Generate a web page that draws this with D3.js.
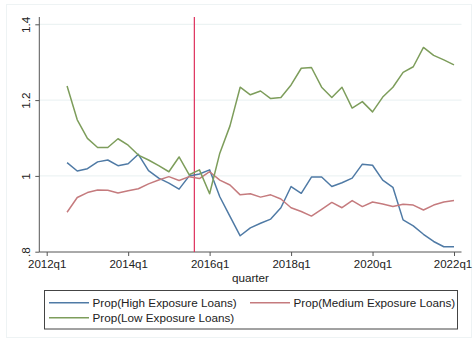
<!DOCTYPE html>
<html>
<head>
<meta charset="utf-8">
<script src="https://cdn.jsdelivr.net/npm/d3@7"></script>
<style>
  html, body { margin: 0; padding: 0; background: #fff; }
  svg { display: block; font-family: "Liberation Sans", Arial, sans-serif; }
</style>
</head>
<body>
<svg id="chart" width="473" height="342"></svg>
<script>
// Quarterly series, 2012q3 .. 2022q1 (quarter index 0 = 2012q1)
const firstQuarter = 2;
const highExposure = [1.035, 1.013, 1.019, 1.037, 1.042, 1.027, 1.032, 1.057, 1.014, 0.994,
  0.981, 0.965, 1.000, 1.005, 1.016, 0.945, 0.893, 0.842, 0.863, 0.875,
  0.886, 0.916, 0.972, 0.954, 0.997, 0.997, 0.972, 0.982, 0.994, 1.031,
  1.028, 0.989, 0.970, 0.884, 0.868, 0.846, 0.827, 0.813, 0.813];
const mediumExposure = [0.904, 0.943, 0.956, 0.963, 0.962, 0.955, 0.961, 0.966, 0.979, 0.989,
  0.998, 0.988, 0.998, 0.993, 1.011, 0.989, 0.976, 0.950, 0.953, 0.944,
  0.950, 0.939, 0.916, 0.906, 0.894, 0.912, 0.930, 0.916, 0.935, 0.919,
  0.931, 0.926, 0.919, 0.925, 0.923, 0.910, 0.923, 0.931, 0.935];
const lowExposure = [1.237, 1.148, 1.099, 1.075, 1.075, 1.098, 1.081, 1.055, 1.042, 1.027,
  1.011, 1.050, 1.003, 1.016, 0.953, 1.060, 1.132, 1.234, 1.214, 1.224,
  1.204, 1.207, 1.240, 1.284, 1.286, 1.234, 1.207, 1.234, 1.179, 1.196,
  1.169, 1.208, 1.234, 1.273, 1.288, 1.339, 1.318, 1.306, 1.293];

const xTickQuarters = [0, 8, 16, 24, 32, 40];
const xTickLabels = ["2012q1", "2014q1", "2016q1", "2018q1", "2020q1", "2022q1"];
const yTicks = [0.8, 1, 1.2, 1.4];
const yTickLabels = [".8", "1", "1.2", "1.4"];
const eventQuarter = 14.5;   // between 2015q3 and 2015q4
const seriesNames = ["Prop(High Exposure Loans)", "Prop(Medium Exposure Loans)", "Prop(Low Exposure Loans)"];
const seriesColors = ["#4f7aa5", "#c57b7e", "#7d9d5b"];

const svg = d3.select("#chart");
const font = "Liberation Sans, Arial, sans-serif";

// outer graph frame
svg.append("rect").attr("x", 6.5).attr("y", 4.5).attr("width", 465).attr("height", 333)
  .attr("fill", "#fff").attr("stroke", "#eef3f4").attr("stroke-width", 1);

const x = d3.scaleLinear().domain([0, 40]).range([46.7, 454]);
const y = d3.scaleLinear().domain([0.8, 1.4]).range([251.7, 24.3]);
const plotLeft = 39.3, plotRight = 461.5, plotTop = 17, plotBottom = 252;

// gridlines
svg.append("g").selectAll("line").data(yTicks.filter(v => v > 0.8)).join("line")
  .attr("x1", plotLeft).attr("x2", plotRight)
  .attr("y1", d => y(d)).attr("y2", d => y(d))
  .attr("stroke", "#e8f0f1").attr("stroke-width", 1);

// y axis
const yAxis = d3.axisLeft(y).tickValues(yTicks).tickSize(4)
  .tickFormat((d, i) => yTickLabels[i]);
const gy = svg.append("g").attr("transform", `translate(${plotLeft},0)`).call(yAxis);
gy.select(".domain").attr("d", `M0,${plotTop}V${plotBottom}`).attr("stroke", "#555");
gy.selectAll(".tick line").attr("stroke", "#555");
gy.selectAll(".tick text")
  .attr("x", null).attr("dy", null)
  .attr("transform", "translate(-13.5,0) rotate(-90)")
  .attr("text-anchor", "middle").attr("dominant-baseline", "central")
  .attr("font-family", font).attr("font-size", 11.7).attr("fill", "#222");

// x axis
const xAxis = d3.axisBottom(x).tickValues(xTickQuarters).tickSize(4)
  .tickFormat((d, i) => xTickLabels[i]);
const gx = svg.append("g").attr("transform", `translate(0,${plotBottom})`).call(xAxis);
gx.select(".domain").attr("d", `M${plotLeft},0H${plotRight}`).attr("stroke", "#555");
gx.selectAll(".tick line").attr("stroke", "#555");
gx.selectAll(".tick text").attr("y", 12).attr("dy", "0.32em")
  .attr("font-family", font).attr("font-size", 11.5).attr("fill", "#222");
// keep the last year label inside the frame
gx.selectAll(".tick text").filter((d, i) => i === xTickQuarters.length - 1)
  .attr("dx", -1.5);

svg.append("text").attr("x", 250.5).attr("y", 277.5)
  .attr("text-anchor", "middle").attr("dominant-baseline", "central")
  .attr("font-family", font).attr("font-size", 11.7).attr("fill", "#222")
  .text("quarter");

// vertical event line
svg.append("line")
  .attr("x1", x(eventQuarter)).attr("x2", x(eventQuarter))
  .attr("y1", plotTop).attr("y2", plotBottom)
  .attr("stroke", "#de2f5c").attr("stroke-width", 1.2);

// series
const series = [highExposure, mediumExposure, lowExposure];
const line = d3.line().x((d, i) => x(firstQuarter + i)).y(d => y(d));
svg.append("g").selectAll("path").data(series).join("path")
  .attr("d", d => line(d))
  .attr("fill", "none")
  .attr("stroke", (d, i) => seriesColors[i])
  .attr("stroke-width", 1.5)
  .attr("stroke-linejoin", "round");

// legend
const lg = svg.append("g");
lg.append("rect").attr("x", 44.5).attr("y", 290.5).attr("width", 413).attr("height", 38.5)
  .attr("fill", "#fff").attr("stroke", "#444").attr("stroke-width", 1);
const legendItems = [
  { i: 0, lx: 49, ty: 302.7 },
  { i: 1, lx: 250, ty: 302.7 },
  { i: 2, lx: 49, ty: 317.7 }
];
legendItems.forEach(it => {
  lg.append("line").attr("x1", it.lx).attr("x2", it.lx + 40)
    .attr("y1", it.ty).attr("y2", it.ty)
    .attr("stroke", seriesColors[it.i]).attr("stroke-width", 1.5);
  lg.append("text").attr("x", it.lx + 43.5).attr("y", it.ty)
    .attr("dominant-baseline", "central")
    .attr("font-family", font).attr("font-size", 11.7).attr("fill", "#222")
    .text(seriesNames[it.i]);
});
</script>
</body>
</html>
